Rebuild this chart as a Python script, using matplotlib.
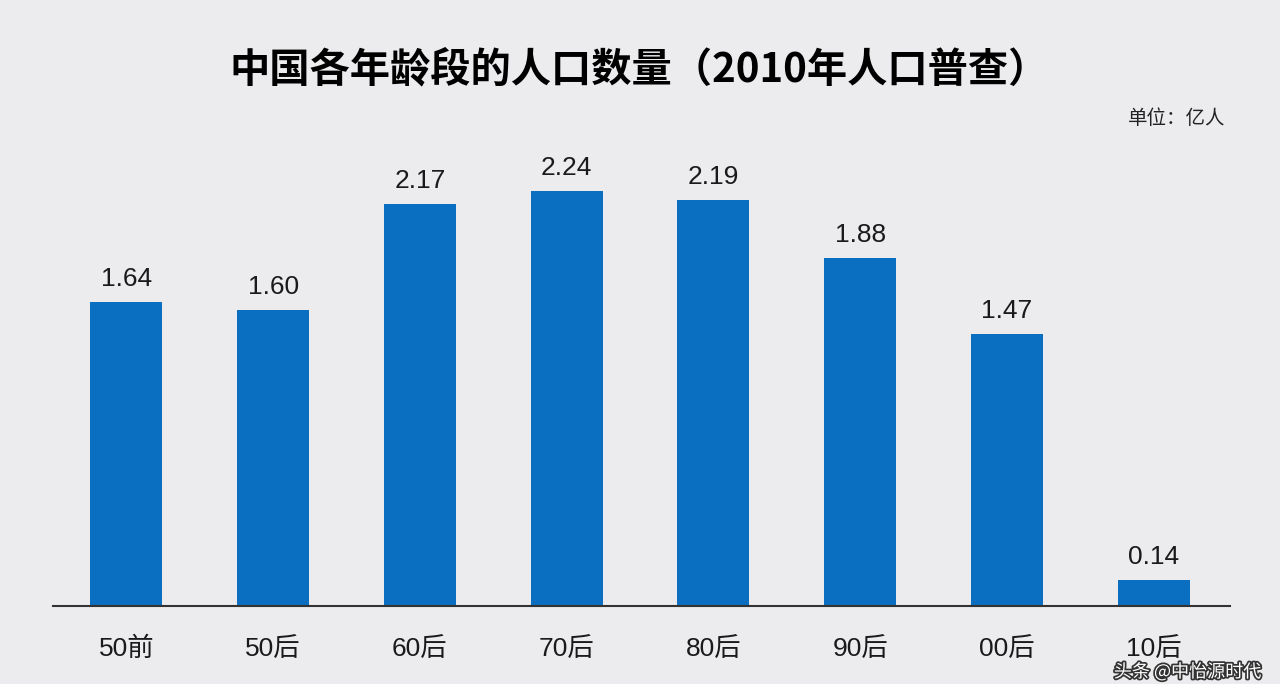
import matplotlib.pyplot as plt
import matplotlib.patheffects as pe

plt.rcParams['font.family'] = ['Liberation Sans', 'Noto Sans CJK SC', 'DejaVu Sans']

# 数据（单位：亿人）
categories = ['50前', '50后', '60后', '70后', '80后', '90后', '00后', '10后']
values = [1.64, 1.60, 2.17, 2.24, 2.19, 1.88, 1.47, 0.14]
value_labels = ['1.64', '1.60', '2.17', '2.24', '2.19', '1.88', '1.47', '0.14']

bg = '#ececef'
fig = plt.figure(figsize=(12.8, 6.84), dpi=100, facecolor=bg)
ax = fig.add_axes([0.0414, 0.114, 0.9196, 0.677], facecolor=bg)

x = range(len(categories))
bars = ax.bar(x, values, width=0.49, color='#0b6fc1')

for b, lab in zip(bars, value_labels):
    ax.text(b.get_x() + b.get_width() / 2, b.get_height() + 0.06, lab,
            ha='center', va='bottom', fontsize=19, color='#1a1a1a')

ax.set_xlim(-0.5, 7.52)
ax.set_ylim(0, 2.5)
ax.set_xticks(list(x))
ax.set_xticklabels(categories, fontsize=19, color='#1a1a1a')
ax.tick_params(axis='x', length=0, pad=22)
ax.set_yticks([])
for s in ['top', 'right', 'left']:
    ax.spines[s].set_visible(False)
ax.spines['bottom'].set_color('#333333')
ax.spines['bottom'].set_linewidth(1.5)

fig.text(0.4995, 0.898, '中国各年龄段的人口数量（2010年人口普查）', ha='center', va='center',
         fontsize=29, fontweight='heavy', family=['Noto Sans CJK SC', 'DejaVu Sans'])
fig.text(0.957, 0.827, '单位：亿人', ha='right', va='center', fontsize=14,
         family=['Noto Sans CJK SC', 'DejaVu Sans'], color='#222222')

# 水印
fig.text(0.985, 0.004, '头条 @中怡源时代', ha='right', va='bottom', fontsize=13,
         color='white', family=['Noto Sans CJK SC', 'DejaVu Sans'],
         path_effects=[pe.withStroke(linewidth=2.5, foreground='#333333')])

fig.savefig('out.png', dpi=100, facecolor=bg)
